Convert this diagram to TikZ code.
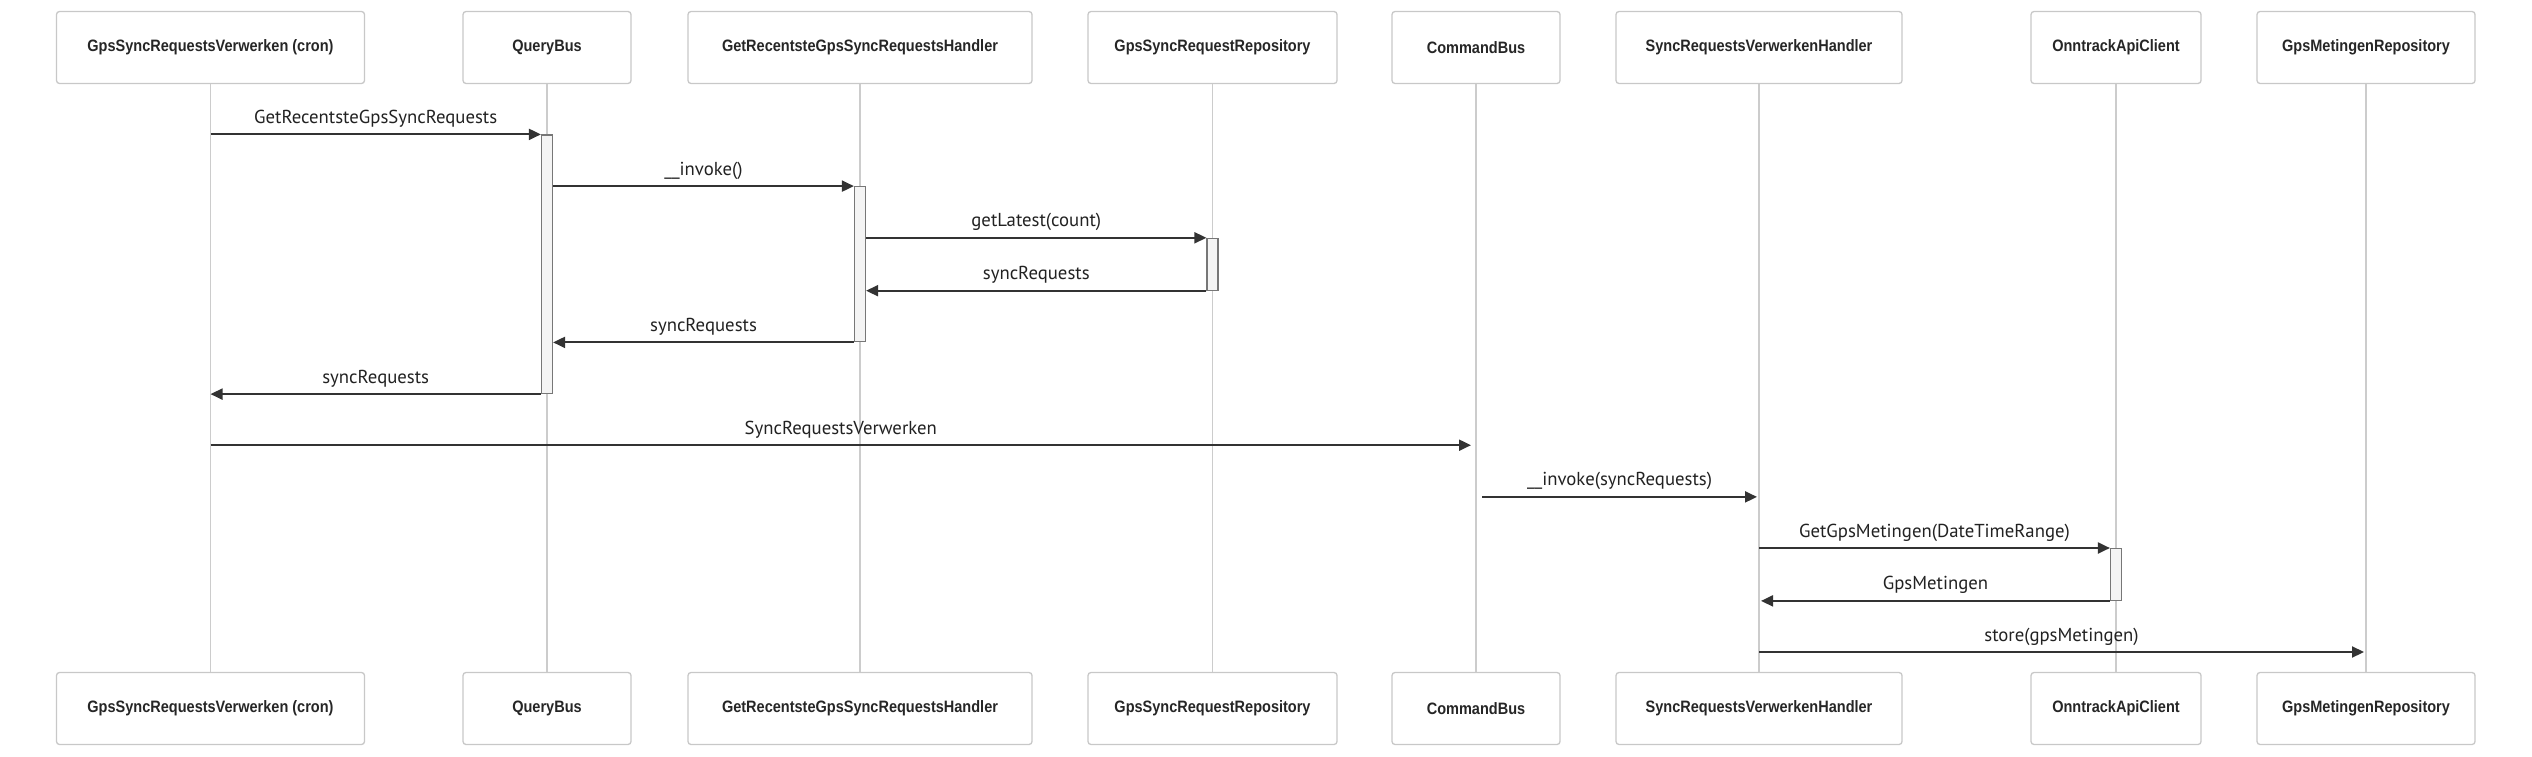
\documentclass[tikz,border=0pt]{standalone}
\usepackage{fontspec}
\setmainfont{Liberation Sans}
\newfontfamily\boxfont[FakeStretch=0.88]{Liberation Sans}
\newfontfamily\msgfont{PT Sans}
\usetikzlibrary{arrows.meta}
\definecolor{boxline}{HTML}{C8C8C8}
\definecolor{lifecol}{HTML}{CCCCCC}
\definecolor{msgline}{HTML}{333333}
\definecolor{msgtext}{HTML}{222222}
\definecolor{actfill}{HTML}{F4F4F4}
\definecolor{actline}{HTML}{777777}
\begin{document}
\begin{tikzpicture}[x=1pt,y=-1pt,
 actor/.style={draw=boxline, line width=1.3pt, rounded corners=3pt, fill=white, minimum height=72pt, inner sep=0pt, font=\boxfont\fontsize{16.5}{19}\selectfont\bfseries, text=black!85},
 life/.style={draw=lifecol, line width=1.5pt},
 actbar/.style={draw=actline, line width=1.2pt, fill=actfill, minimum width=11pt, inner sep=0pt},
 msg/.style={draw=msgline, line width=2pt, -{Triangle[length=12pt,width=11pt]}},
 lbl/.style={font=\msgfont\fontsize{18.75}{21}\selectfont, text=msgtext, inner sep=0pt, anchor=base, yshift=11pt}
]
\useasboundingbox[fill=white] (0,0) rectangle (2532,757);
% top actors
\node[actor, minimum width=308pt] (t1) at (210.5,47.5) {GpsSyncRequestsVerwerken (cron)};
\node[actor, minimum width=168pt] (t2) at (547,47.5) {QueryBus};
\node[actor, minimum width=344pt] (t3) at (860,47.5) {GetRecentsteGpsSyncRequestsHandler};
\node[actor, minimum width=249pt] (t4) at (1212.5,47.5) {GpsSyncRequestRepository};
\node[actor, minimum width=168pt] (t5) at (1476,47.5) {CommandBus};
\node[actor, minimum width=286pt] (t6) at (1759,47.5) {SyncRequestsVerwerkenHandler};
\node[actor, minimum width=170pt] (t7) at (2116,47.5) {OnntrackApiClient};
\node[actor, minimum width=218pt] (t8) at (2366,47.5) {GpsMetingenRepository};
% bottom actors
\node[actor, minimum width=308pt] (b1) at (210.5,708.5) {GpsSyncRequestsVerwerken (cron)};
\node[actor, minimum width=168pt] (b2) at (547,708.5) {QueryBus};
\node[actor, minimum width=344pt] (b3) at (860,708.5) {GetRecentsteGpsSyncRequestsHandler};
\node[actor, minimum width=249pt] (b4) at (1212.5,708.5) {GpsSyncRequestRepository};
\node[actor, minimum width=168pt] (b5) at (1476,708.5) {CommandBus};
\node[actor, minimum width=286pt] (b6) at (1759,708.5) {SyncRequestsVerwerkenHandler};
\node[actor, minimum width=170pt] (b7) at (2116,708.5) {OnntrackApiClient};
\node[actor, minimum width=218pt] (b8) at (2366,708.5) {GpsMetingenRepository};
% lifelines
\foreach \i in {1,...,8}{\draw[life] (t\i.south) -- (b\i.north);}
% activations
\node[actbar, minimum height=258.5pt] (aQ) at (547,264.25) {};
\node[actbar, minimum height=155.1pt] (aH) at (860,264.25) {};
\node[actbar, minimum height=51.7pt] (aR) at (1212.5,264.25) {};
\node[actbar, minimum height=51.7pt] (aO) at (2116,574.45) {};
% row coordinates
\coordinate (m7) at (0,445.2);
\coordinate (m8) at (0,496.9);
\coordinate (m11) at (0,652);
% messages
\draw[msg] (t1 |- aQ.north) -- node[midway,lbl]{GetRecentsteGpsSyncRequests} (aQ.north west);
\draw[msg] (aQ.east |- aH.north) -- node[midway,lbl]{\_\_invoke()} (aH.north west);
\draw[msg] (aH.east |- aR.north) -- node[midway,lbl]{getLatest(count)} (aR.north west);
\draw[msg] (aR.south west) -- node[midway,lbl]{syncRequests} (aH.east |- aR.south);
\draw[msg] (aH.south west) -- node[midway,lbl]{syncRequests} (aQ.east |- aH.south);
\draw[msg] (aQ.south west) -- node[midway,lbl]{syncRequests} (t1 |- aQ.south);
\draw[msg] (t1 |- m7) -- node[midway,lbl]{SyncRequestsVerwerken} ([xshift=-5pt]t5 |- m7);
\draw[msg] ([xshift=6pt]t5 |- m8) -- node[midway,lbl]{\_\_invoke(syncRequests)} ([xshift=-2pt]t6 |- m8);
\draw[msg] (t6 |- aO.north) -- node[midway,lbl]{GetGpsMetingen(DateTimeRange)} (aO.north west);
\draw[msg] (aO.south west) -- node[midway,lbl]{GpsMetingen} ([xshift=2pt]t6 |- aO.south);
\draw[msg] (t6 |- m11) -- node[midway,lbl]{store(gpsMetingen)} ([xshift=-2pt]t8 |- m11);
\end{tikzpicture}
\end{document}
